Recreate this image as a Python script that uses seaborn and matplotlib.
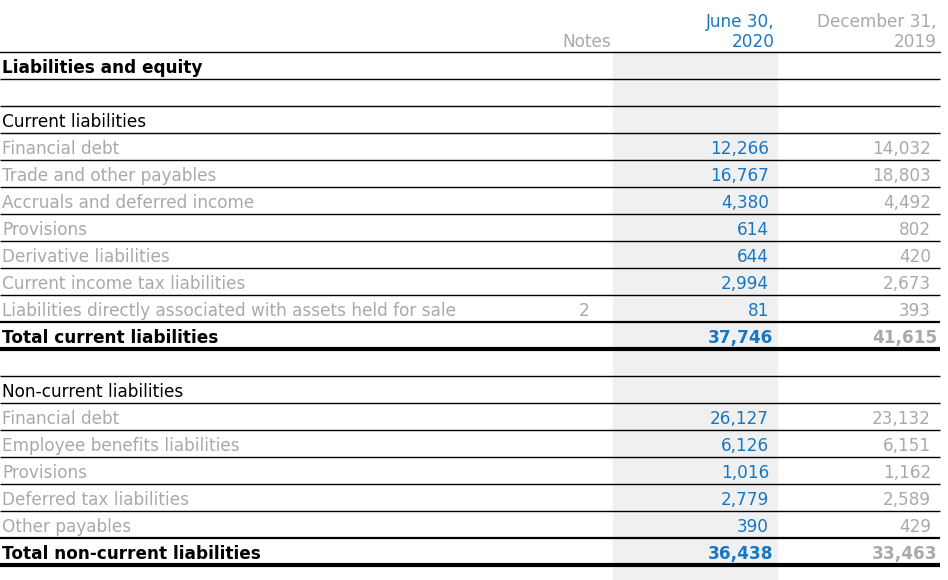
import matplotlib.pyplot as plt
import seaborn as sns

# Table content
labels = ["Liabilities and equity", "",
          "Current liabilities", "Financial debt", "Trade and other payables",
          "Accruals and deferred income", "Provisions", "Derivative liabilities",
          "Current income tax liabilities",
          "Liabilities directly associated with assets held for sale",
          "Total current liabilities", "",
          "Non-current liabilities", "Financial debt", "Employee benefits liabilities",
          "Provisions", "Deferred tax liabilities", "Other payables",
          "Total non-current liabilities"]
kinds = ["title", "blank",
         "head", "item", "item", "item", "item", "item", "item", "item", "total", "blank",
         "head", "item", "item", "item", "item", "item", "total"]
notes = ["", "", "", "", "", "", "", "", "", "2", "", "", "", "", "", "", "", "", ""]
jun_2020 = ["", "", "", "12,266", "16,767", "4,380", "614", "644", "2,994", "81", "37,746", "",
            "", "26,127", "6,126", "1,016", "2,779", "390", "36,438"]
dec_2019 = ["", "", "", "14,032", "18,803", "4,492", "802", "420", "2,673", "393", "41,615", "",
            "", "23,132", "6,151", "1,162", "2,589", "429", "33,463"]
col_headers = [["", "Notes"], ["June 30,", "2020"], ["December 31,", "2019"]]

BLUE = "#1777c4"
GREY = "#a9a9a9"
SHADE = "#f0f0f0"

sns.set_theme(style="white")
plt.rcParams["font.family"] = ["DejaVu Sans"]
FS = 12.2

fig = plt.figure(figsize=(9.48, 5.8), dpi=100)
ax = fig.add_axes([0, 0, 1, 1])
ax.set_xlim(0, 948)
ax.set_ylim(580, 0)
ax.axis("off")

top, step = 52, 27

# shaded current-period column
ax.axvspan(613, 777, ymin=0, ymax=1 - top / 580, color=SHADE, zorder=0)

# column headers (two lines each)
for (l1, l2), x, c in zip(col_headers, [611, 775, 937], [GREY, BLUE, GREY]):
    ax.text(x, 27, l1, ha="right", va="baseline", color=c, fontsize=FS)
    ax.text(x, 47, l2, ha="right", va="baseline", color=c, fontsize=FS)
ax.plot([0, 940], [top, top], color="black", lw=1.0, zorder=2)

for i, (lab, kind) in enumerate(zip(labels, kinds)):
    y0 = top + step * i
    y1 = y0 + step
    yb = y1 - 6
    bold = kind in ("title", "total")
    fw = "bold" if bold else "normal"
    lab_color = GREY if kind == "item" else "black"
    ax.text(2, yb, lab, ha="left", va="baseline", fontsize=FS, color=lab_color,
            fontweight=fw)
    if notes[i]:
        ax.text(590, yb, notes[i], ha="right", va="baseline", fontsize=FS, color=GREY)
    off = 4 if bold else 0
    if jun_2020[i]:
        ax.text(769 + off, yb, jun_2020[i], ha="right", va="baseline", fontsize=FS,
                color=BLUE, fontweight=fw)
    if dec_2019[i]:
        ax.text(931 + off + 2 * bold, yb, dec_2019[i], ha="right", va="baseline",
                fontsize=FS, color=GREY, fontweight=fw)
    # rule under the row
    nxt = kinds[i + 1] if i + 1 < len(kinds) else None
    if kind == "total":
        lw = 3.0
    elif nxt == "total":
        lw = 1.6
    else:
        lw = 1.0
    ax.plot([0, 940], [y1, y1], color="black", lw=lw, zorder=2, solid_capstyle="butt")

fig.savefig("out.png", dpi=100)
